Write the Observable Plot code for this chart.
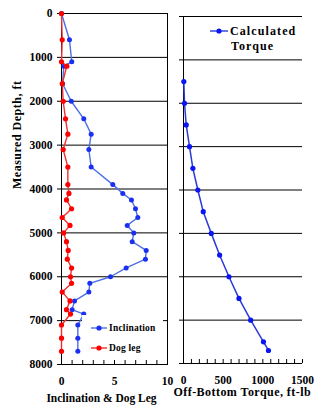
<!DOCTYPE html>
<html><head><meta charset="utf-8">
<script src="https://cdn.jsdelivr.net/npm/d3@7"></script>
<script src="https://cdn.jsdelivr.net/npm/@observablehq/plot@0.6"></script>
<style>
body{margin:0;background:#fff;}
#chart{position:relative;width:316px;height:408px;overflow:hidden;background:#fff;font-family:"Liberation Serif",serif;font-weight:bold;color:#000;}
#chart svg{position:absolute;left:0;top:0;}
#chart svg text{font-family:"Liberation Serif",serif;font-weight:bold;}
.lgbox{position:absolute;background:#fff;}
.lgitem{position:absolute;display:flex;align-items:center;white-space:nowrap;}
.lgitem svg{position:static !important;}
</style></head><body><div id="chart"></div>
<script>
// ---- data ----
const depths = [0,600,1100,1200,1600,2000,2400,2750,3100,3500,3900,4100,4250,4450,4650,4830,5000,5200,5400,5600,5800,6000,6150,6350,6550,6750,6850,7100,7400,7700];
const inclination = [0,0.75,0.97,0.22,0.1,0.92,2.1,2.8,2.58,2.8,4.84,5.78,6.6,6.98,7.2,6.2,6.82,6.67,7.99,7.92,6.1,4.62,2.67,2.58,1.23,1.0,2.1,1.54,1.54,1.54];
const dogLeg = [0,0.07,0,0.5,0.07,0.16,0.38,0.6,0.16,0.6,0.6,0.7,0.47,0.95,0.07,0.8,0.2,0.47,0.63,0.55,0.95,0.85,0.95,0.07,0.8,0.47,0.85,0,0,0];
const torqueDepths = [1500,2000,2500,3000,3500,4000,4500,5000,5500,6000,6500,7000,7500,7700];
const torque = [4,13,34,76,118,181,249,350,455,573,699,847,1008,1071];
const depthTicks = [0,1000,2000,3000,4000,5000,6000,7000,8000];
const incTicks = [0,5,10];
const torqueTicks = [0,500,1000,1500];
const leftNames = ["Inclination","Dog leg"];
const rightNames = ["Calculated","Torque"];
const yTitle = "Measured Depth, ft";
const xTitleLeft = "Inclination & Dog Leg";
const xTitleRight = "Off-Bottom Torque, ft-lb";

const incBlueLine = "#4d6fe6", incBlueDot = "#1a2ff0";
const redLine = "#f03030", redDot = "#ff0000";
const tqLine = "#2a3ad8", tqDot = "#0a14f5";

const incData = depths.map((d,i)=>({d, v: inclination[i]}));
const dogData = depths.map((d,i)=>({d, v: dogLeg[i]}));
const tqData = torqueDepths.map((d,i)=>({d, v: torque[i]}));

const fmt = d => String(d);
const baseStyle = {background:"transparent", fontFamily:"Liberation Serif, serif", fontSize:"11.5px", fontWeight:"bold", color:"#000", overflow:"visible"};

const left = Plot.plot({
  width:316, height:408, marginLeft:61, marginRight:149, marginTop:13, marginBottom:44,
  style: baseStyle,
  x:{domain:[0,10]}, y:{domain:[0,8000], reverse:true},
  marks:[
    Plot.gridY(depthTicks, {stroke:"#000", strokeOpacity:1}),
    Plot.frame({stroke:"#000"}),
    Plot.axisY(depthTicks, {tickSize:4, tickPadding:5, label:null, tickFormat:fmt, fontWeight:"bold"}),
    Plot.axisX(incTicks, {tickSize:0, tickPadding:12, label:null, tickFormat:fmt, fontWeight:"bold"}),
    Plot.tickX(d3.range(0,11), {x:d=>d, insetTop:347, stroke:"#000"}),
    Plot.line(incData, {x:"v", y:"d", stroke:incBlueLine, strokeWidth:1.4}),
    Plot.dot(incData, {x:"v", y:"d", r:2.5, fill:incBlueDot}),
    Plot.line(dogData, {x:"v", y:"d", stroke:redLine, strokeWidth:1.4}),
    Plot.dot(dogData, {x:"v", y:"d", r:2.6, fill:redDot}),
    Plot.text([xTitleLeft], {frameAnchor:"bottom", dx:-13, dy:37, fontSize:11.5, fontWeight:"bold"}),
    Plot.text([yTitle], {frameAnchor:"left", dx:-44, rotate:-90, fontSize:12, fontWeight:"bold"})
  ]
});

const right = Plot.plot({
  width:316, height:408, marginLeft:183, marginRight:14, marginTop:16, marginBottom:45,
  style: baseStyle,
  x:{domain:[0,1500]}, y:{domain:[0,8000], reverse:true},
  marks:[
    Plot.gridY(depthTicks.slice(0,-1), {stroke:"#000", strokeOpacity:1}),
    Plot.ruleY([8000], {stroke:"#000"}),
    Plot.ruleX([0], {stroke:"#000"}),
    Plot.axisY(depthTicks, {tickSize:4, tickFormat:()=>"", label:null}),
    Plot.axisX(torqueTicks, {tickSize:0, tickPadding:12, label:null, tickFormat:fmt, fontWeight:"bold"}),
    Plot.tickX(d3.range(0,1501,100), {x:d=>d, insetTop:343, stroke:"#000"}),
    Plot.line(tqData, {x:"v", y:"d", stroke:tqLine, strokeWidth:1.5}),
    Plot.dot(tqData, {x:"v", y:"d", r:2.6, fill:tqDot}),
    Plot.text([xTitleRight], {frameAnchor:"bottom-left", textAnchor:"start", dx:-10, dy:32, fontSize:12, fontWeight:"bold"})
  ]
});
// drop the empty tick-label texts of the right panel's y axis
d3.select(right).selectAll("text").filter(function(){ return this.textContent.trim() === ""; }).remove();
// spread titles like the reference
d3.select(right).selectAll("text").filter(function(){ return this.textContent === xTitleRight; })
  .style("letter-spacing", "0.45px");
d3.select(left).selectAll("text").filter(function(){ return this.textContent === yTitle; })
  .style("letter-spacing", "0.5px");

const chart = document.getElementById("chart");
chart.appendChild(left);
chart.appendChild(right);

function swatch(lineColor, dotColor, w){
  const ns="http://www.w3.org/2000/svg";
  const s=document.createElementNS(ns,"svg");
  s.setAttribute("width",w); s.setAttribute("height",8);
  const l=document.createElementNS(ns,"line");
  l.setAttribute("x1",0);l.setAttribute("x2",w);l.setAttribute("y1",4);l.setAttribute("y2",4);
  l.setAttribute("stroke",lineColor);l.setAttribute("stroke-width",1.4);
  const c=document.createElementNS(ns,"circle");
  c.setAttribute("cx",w/2);c.setAttribute("cy",4);c.setAttribute("r",2.6);c.setAttribute("fill",dotColor);
  s.appendChild(l);s.appendChild(c);return s;
}

// left legend
const box=document.createElement("div");
box.className="lgbox";
Object.assign(box.style,{left:"82px",top:"315px",width:"81px",height:"44px"});
chart.appendChild(box);
const lcols=[[incBlueLine,incBlueDot],[redLine,redDot]];
leftNames.forEach((n,i)=>{
  const it=document.createElement("div");it.className="lgitem";
  Object.assign(it.style,{left:"91px",top:(322+i*20)+"px",height:"12px",fontSize:"9.5px",letterSpacing:"0.2px"});
  it.appendChild(swatch(lcols[i][0],lcols[i][1],16));
  const t=document.createElement("span");t.textContent=n;t.style.marginLeft="2px";
  it.appendChild(t);chart.appendChild(it);
});

// right legend
const r1=document.createElement("div");r1.className="lgitem";
Object.assign(r1.style,{left:"210px",top:"24px",height:"14px",fontSize:"12px",letterSpacing:"1.1px"});
r1.appendChild(swatch(tqLine,tqDot,18));
const rt=document.createElement("span");rt.textContent=rightNames[0];rt.style.marginLeft="2px";
r1.appendChild(rt);chart.appendChild(r1);
const r2=document.createElement("div");r2.className="lgitem";
Object.assign(r2.style,{left:"231px",top:"39px",height:"14px",fontSize:"12px",letterSpacing:"1.1px"});
r2.textContent=rightNames[1];chart.appendChild(r2);
</script>
</body></html>
